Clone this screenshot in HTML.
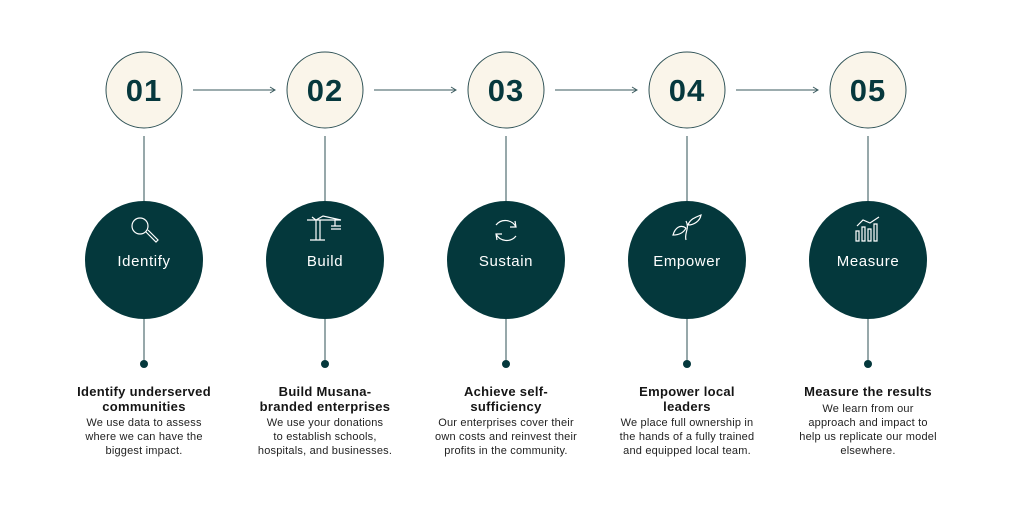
<!DOCTYPE html>
<html><head><meta charset="utf-8">
<style>
html,body{margin:0;padding:0;background:#fff;}
body{width:1022px;height:527px;position:relative;overflow:hidden;font-family:"Liberation Sans",sans-serif;}
svg{position:absolute;left:0;top:0;}
.num{position:absolute;width:80px;text-align:center;top:73px;font-size:31px;font-weight:bold;color:#06383d;letter-spacing:1px;}
.lab{position:absolute;width:120px;text-align:center;top:253px;font-size:15px;color:#fff;letter-spacing:0.6px;}
.t{position:absolute;width:180px;text-align:center;font-size:13px;font-weight:bold;color:#151515;line-height:15px;letter-spacing:0.3px;}
.d{position:absolute;width:180px;text-align:center;font-size:11px;color:#222;line-height:14px;letter-spacing:0.2px;}
</style></head><body>
<svg width="1022" height="527" viewBox="0 0 1022 527">
<defs><marker id="a" markerWidth="8" markerHeight="8" refX="6" refY="4" orient="auto" markerUnits="userSpaceOnUse"><path d="M1,1 L6,4 L1,7" fill="none" stroke="#3a5a5e" stroke-width="1"/></marker></defs>
<g stroke="#3a5a5e" stroke-width="1">
<line x1="193" y1="90" x2="275" y2="90" marker-end="url(#a)"/>
<line x1="374" y1="90" x2="456" y2="90" marker-end="url(#a)"/>
<line x1="555" y1="90" x2="637" y2="90" marker-end="url(#a)"/>
<line x1="736" y1="90" x2="818" y2="90" marker-end="url(#a)"/>
</g>
<g fill="#faf5ea" stroke="#2f5256" stroke-width="1">
<circle cx="144" cy="90" r="38"/><circle cx="325" cy="90" r="38"/><circle cx="506" cy="90" r="38"/><circle cx="687" cy="90" r="38"/><circle cx="868" cy="90" r="38"/>
</g>
<g stroke="#2f5256" stroke-width="1">
<line x1="144" y1="136" x2="144" y2="362"/><line x1="325" y1="136" x2="325" y2="362"/><line x1="506" y1="136" x2="506" y2="362"/><line x1="687" y1="136" x2="687" y2="362"/><line x1="868" y1="136" x2="868" y2="362"/>
</g>
<g fill="#04383c">
<circle cx="144" cy="260" r="59"/><circle cx="325" cy="260" r="59"/><circle cx="506" cy="260" r="59"/><circle cx="687" cy="260" r="59"/><circle cx="868" cy="260" r="59"/>
<circle cx="144" cy="364" r="4"/><circle cx="325" cy="364" r="4"/><circle cx="506" cy="364" r="4"/><circle cx="687" cy="364" r="4"/><circle cx="868" cy="364" r="4"/>
</g>
<g fill="none" stroke="#fff" stroke-width="1.2">
<circle cx="140" cy="226" r="8"/><path d="M146,232 L156,242 L158,240 L148,230"/>
<path d="M307,220 H341 M312,217 L316,220 L316,240 M320,220 V240 M310,240 H325 M316,220 L323,216 L341,220 M335,220 V226 M331,226 H341 M331,229 H341"/>
<path d="M496,225 A12,12 0 0 1 516,227 M515,221 L516,227 L510,227 M516,236 A12,12 0 0 1 496,234 M497,240 L496,234 L502,234"/>
<path d="M686,240 C684,233 690,228 686,221 M686,228 C680,224 675,228 673,235 C680,235 684,232 686,228 M688,225 C690,219 696,217 701,215 C700,221 694,225 688,225"/>
<path d="M856,231 h3 v10 h-3z M862,227 h3 v14 h-3z M868,229 h3 v12 h-3z M874,224 h3 v17 h-3z M857,226 L863,220 L870,223 L879,217"/>
</g>
</svg>
<div class="num" style="left:104px">01</div><div class="num" style="left:285px">02</div><div class="num" style="left:466px">03</div><div class="num" style="left:647px">04</div><div class="num" style="left:828px">05</div>
<div class="lab" style="left:84px">Identify</div><div class="lab" style="left:265px">Build</div><div class="lab" style="left:446px">Sustain</div><div class="lab" style="left:627px">Empower</div><div class="lab" style="left:808px">Measure</div>

<div class="t" style="left:54px;top:384px">Identify underserved<br>communities</div>
<div class="d" style="left:54px;top:416px">We use data to assess<br>where we can have the<br>biggest impact.</div>
<div class="t" style="left:235px;top:384px">Build Musana-<br>branded enterprises</div>
<div class="d" style="left:235px;top:416px">We use your donations<br>to establish schools,<br>hospitals, and businesses.</div>
<div class="t" style="left:416px;top:384px">Achieve self-<br>sufficiency</div>
<div class="d" style="left:416px;top:416px">Our enterprises cover their<br>own costs and reinvest their<br>profits in the community.</div>
<div class="t" style="left:597px;top:384px">Empower local<br>leaders</div>
<div class="d" style="left:597px;top:416px">We place full ownership in<br>the hands of a fully trained<br>and equipped local team.</div>
<div class="t" style="left:778px;top:384px">Measure the results</div>
<div class="d" style="left:778px;top:402px">We learn from our<br>approach and impact to<br>help us replicate our model<br>elsewhere.</div>
</body></html>
